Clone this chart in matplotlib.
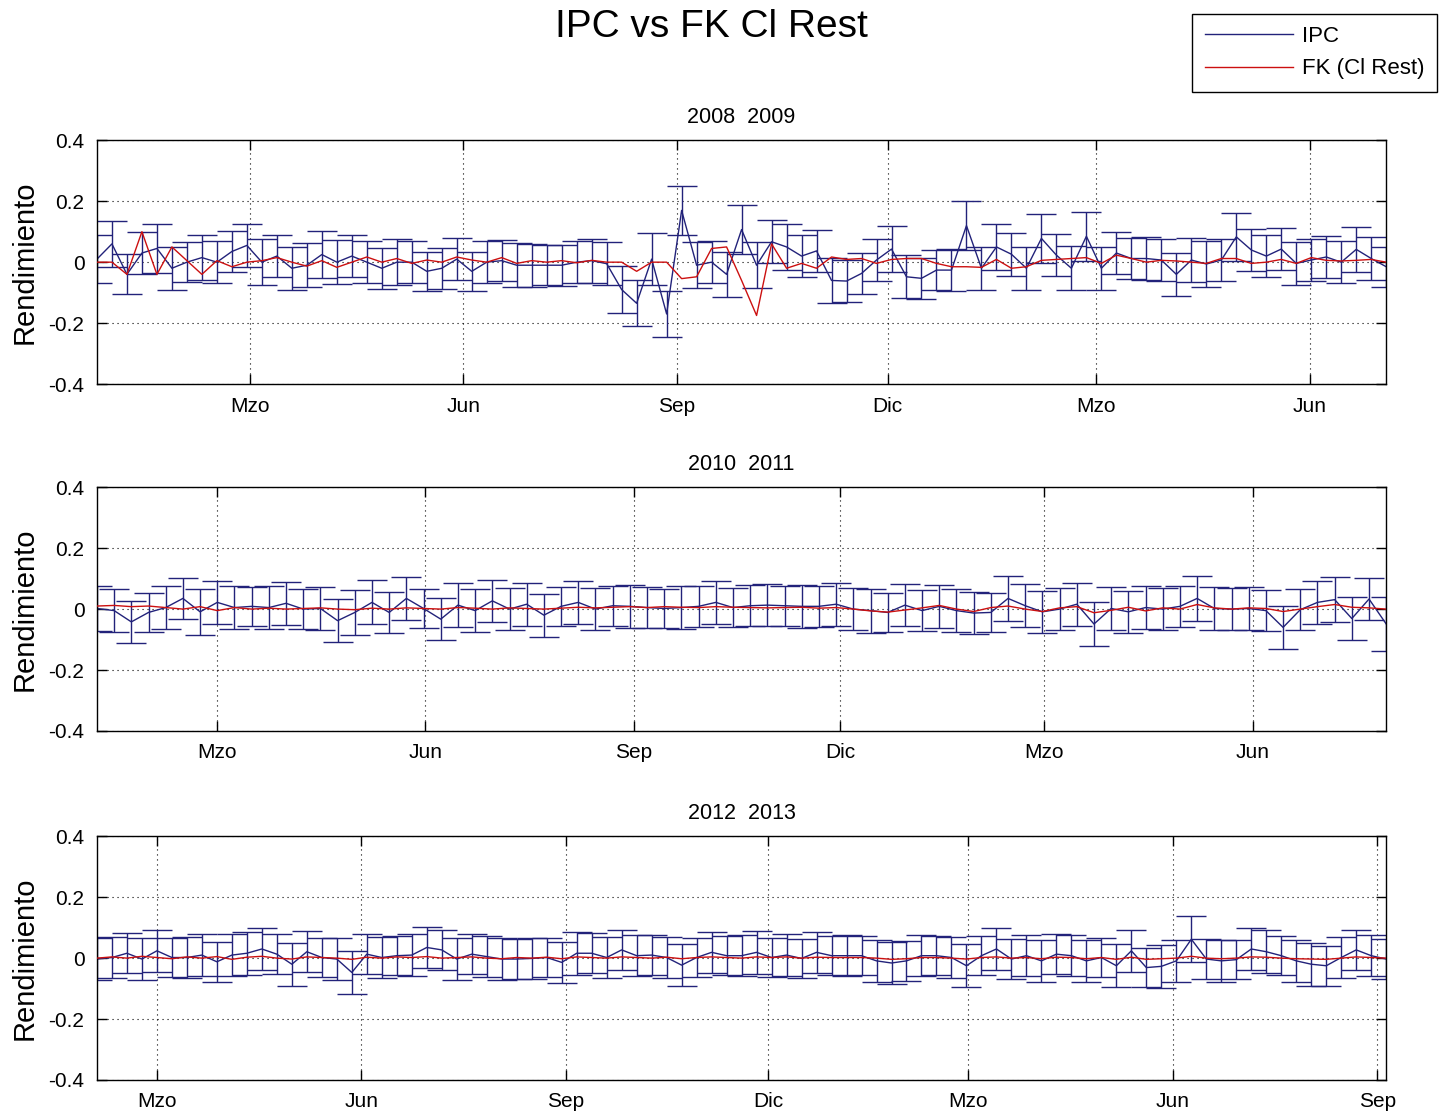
import matplotlib
matplotlib.use("Agg")
import matplotlib.pyplot as plt
import matplotlib.dates as mdates
from matplotlib.lines import Line2D
from matplotlib.ticker import FuncFormatter
import pandas as pd

plt.rcParams['font.family'] = ['Liberation Sans', 'DejaVu Sans']
plt.rcParams['axes.unicode_minus'] = False

# ---- 2008 2009 ----
ipc_0809 = [0.01, 0.06, -0.04, 0.03, 0.045, -0.02, 0.0, 0.015, 0.0, 0.035, 0.055, 0.0, 0.02, -0.02, -0.01,
            0.025, 0.0, 0.02, 0.0, -0.02, 0.0, 0.0, -0.03, -0.02, 0.01, -0.03, 0.0, 0.005, -0.01,
            -0.01, -0.01, -0.01, 0.0, 0.005, -0.005, -0.09, -0.135, 0.01, -0.17, 0.17, -0.01, 0.0, -0.04, 0.107,
            -0.01, 0.067, 0.05, 0.02, 0.037, -0.06, -0.062, -0.037, 0.007, 0.043, -0.048, -0.053, -0.026, -0.026,
            0.12, -0.02, 0.05, 0.026, -0.02, 0.078, 0.023, -0.02, 0.085, -0.02, 0.03, 0.012, 0.012, 0.007, -0.04,
            0.007, -0.006, 0.007, 0.083, 0.04, 0.02, 0.043, -0.004, 0.007, 0.017, 0.0, 0.042, 0.012, -0.015]
fk_0809 = [0.0, 0.0, -0.04, 0.1, -0.04, 0.05, 0.005, -0.04, 0.005, -0.015, 0.0, 0.005, 0.015, 0.0, -0.013,
           0.005, -0.017, 0.0, 0.017, 0.0, 0.012, -0.004, 0.007, 0.0, 0.017, 0.007, 0.0, 0.015, -0.004,
           0.005, 0.0, 0.005, -0.002, 0.006, 0.0, 0.0, -0.03, 0.0, 0.0, -0.054, -0.048, 0.045, 0.05, -0.06,
           -0.175, 0.06, -0.02, -0.004, -0.02, 0.017, 0.009, 0.012, -0.004, 0.009, 0.012, 0.012, -0.004, -0.015,
           -0.015, -0.017, 0.009, -0.02, -0.015, 0.006, 0.009, 0.012, 0.015, -0.004, 0.023, 0.012, 0.0, 0.006, 0.004,
           0.0, -0.004, 0.012, 0.012, -0.004, 0.0, 0.009, -0.004, 0.015, 0.006, 0.004, 0.006, 0.009, 0.0]
err_0809 = [0.08, 0.075, 0.066, 0.07, 0.08, 0.07, 0.065, 0.075, 0.07, 0.068, 0.07, 0.075, 0.07, 0.07, 0.072,
            0.078, 0.072, 0.068, 0.07, 0.068, 0.075, 0.07, 0.065, 0.068, 0.07, 0.065, 0.07, 0.068, 0.072,
            0.07, 0.065, 0.068, 0.07, 0.072, 0.07, 0.078, 0.075, 0.085, 0.075, 0.08, 0.075, 0.07, 0.075, 0.08,
            0.076, 0.07, 0.075, 0.07, 0.068, 0.075, 0.07, 0.068, 0.07, 0.075, 0.07, 0.068, 0.065, 0.07,
            0.08, 0.07, 0.075, 0.07, 0.07, 0.08, 0.07, 0.072, 0.08, 0.07, 0.07, 0.068, 0.07, 0.07, 0.07,
            0.072, 0.075, 0.07, 0.08, 0.07, 0.068, 0.07, 0.07, 0.068, 0.07, 0.068, 0.075, 0.07, 0.065]

# ---- 2010 2011 ----
ipc_1011 = [0.002, -0.005, -0.042, -0.011, 0.005, 0.035, -0.009, 0.022, 0.005, 0.009, 0.005, 0.019, 0.0,
            0.002, -0.038, -0.011, 0.022, -0.011, 0.035, 0.002, -0.033, 0.013, -0.005, 0.027, 0.0, 0.016,
            -0.02, 0.009, 0.022, 0.0, 0.011, 0.009, 0.005, 0.002, 0.005, 0.009, 0.022, 0.005,
            0.011, 0.013, 0.011, 0.009, 0.009, 0.016, 0.0, -0.005, -0.011, 0.013, -0.005, 0.009, -0.005,
            -0.013, -0.011, 0.035, 0.011, -0.009, 0.0, 0.016, -0.049, 0.002, -0.009, 0.005, 0.0, 0.009,
            0.035, 0.002, 0.0, 0.002, -0.005, -0.06, -0.002, 0.022, 0.031, -0.031, 0.033, -0.049]
fk_1011 = [0.01, 0.012, 0.008, 0.01, 0.005, 0.0, 0.008, -0.005, 0.005, 0.0, 0.003, 0.0, 0.002, 0.004, 0.0,
           -0.002, 0.003, 0.0, 0.004, 0.002, 0.0, 0.005, 0.003, 0.0, 0.004, 0.002, 0.0, 0.003, 0.006, 0.004,
           0.006, 0.008, 0.005, 0.008, 0.006, 0.005, 0.008, 0.006,
           0.005, 0.004, 0.005, 0.006, 0.003, 0.005, 0.0, -0.006, -0.01, -0.003, 0.004, 0.012, 0.0, -0.008,
           0.005, 0.01, 0.0, -0.008, 0.004, 0.008, -0.012, -0.004, 0.006, -0.006, 0.004, 0.0, 0.015, 0.004,
           0.0, 0.004, 0.002, -0.008, 0.0, 0.008, 0.015, 0.006, 0.004, 0.0]
err_1011 = [0.075, 0.07, 0.07, 0.065, 0.07, 0.068, 0.075, 0.07, 0.072, 0.065, 0.07, 0.07, 0.065, 0.07,
            0.07, 0.075, 0.072, 0.068, 0.07, 0.065, 0.07, 0.072, 0.07, 0.07, 0.068, 0.07, 0.07, 0.065,
            0.07, 0.068, 0.065, 0.07, 0.068, 0.065, 0.07, 0.068, 0.07, 0.065,
            0.068, 0.07, 0.065, 0.07, 0.068, 0.07, 0.07, 0.072, 0.065, 0.07, 0.068, 0.07, 0.07, 0.068,
            0.065, 0.075, 0.07, 0.068, 0.07, 0.07, 0.072, 0.07, 0.068, 0.07, 0.07, 0.068, 0.075, 0.07,
            0.068, 0.07, 0.068, 0.07, 0.068, 0.07, 0.075, 0.072, 0.07, 0.09]

# ---- 2012 2013 ----
ipc_1213 = [-0.003, 0.002, 0.016, -0.003, 0.024, 0.002, 0.002, 0.01, -0.012, 0.01, 0.016, 0.03, 0.013,
            -0.02, 0.021, 0.002, -0.003, -0.047, 0.013, 0.002, 0.008, 0.01, 0.035, 0.027, -0.003, 0.013,
            0.005, -0.003, -0.003, -0.001, 0.002, -0.014, 0.016, 0.016, 0.002, 0.027, 0.008, 0.01, 0.002,
            -0.023, 0.002, 0.019,
            0.008, 0.008, 0.019, 0.002, 0.01, -0.001, 0.019, 0.008, 0.008, 0.008, -0.009, -0.016, -0.009,
            0.008, 0.008, 0.002, -0.025, 0.008, 0.03, -0.003, 0.008, -0.009, 0.013, 0.008, -0.009, 0.002,
            -0.025, 0.024, -0.031, -0.027, -0.009, 0.062, -0.003, -0.009, -0.005, 0.03, 0.021, 0.008,
            -0.009, -0.02, -0.025, 0.002, 0.027, 0.008, -0.003]
fk_1213 = [0.0, 0.004, 0.0, 0.006, 0.002, -0.002, 0.004, 0.0, 0.005, -0.004, 0.003, 0.006, 0.0, -0.003,
           0.004, 0.002, 0.0, -0.004, 0.003, 0.0, 0.004, 0.002, 0.005, 0.0, 0.002, 0.004, 0.0, -0.002,
           0.002, 0.0, 0.003, -0.002, 0.004, 0.002, 0.0, 0.004, 0.002, 0.0, 0.003, -0.002, 0.002, 0.004,
           0.002, 0.0, 0.004, 0.002, 0.004, 0.0, 0.003, 0.002, 0.002, 0.002, 0.0, -0.004, -0.002, 0.002,
           0.002, 0.0, -0.003, 0.002, 0.004, 0.0, 0.002, -0.002, 0.003, 0.002, -0.002, 0.002, -0.004,
           0.003, -0.004, -0.002, 0.0, 0.006, 0.0, -0.002, 0.0, 0.004, 0.003, 0.0, -0.002, -0.003, -0.004,
           0.0, 0.004, 0.002, 0.0]
err_1213 = [0.07, 0.068, 0.065, 0.07, 0.068, 0.065, 0.068, 0.07, 0.065, 0.068, 0.07, 0.068, 0.065, 0.07,
            0.068, 0.065, 0.068, 0.07, 0.065, 0.068, 0.065, 0.07, 0.068, 0.065, 0.068, 0.065, 0.068, 0.07,
            0.065, 0.068, 0.065, 0.068, 0.07, 0.065, 0.068, 0.065, 0.068, 0.065, 0.068, 0.07, 0.065, 0.068,
            0.065, 0.068, 0.07, 0.065, 0.068, 0.065, 0.068, 0.065, 0.068, 0.065, 0.07, 0.068, 0.065, 0.068,
            0.065, 0.068, 0.07, 0.065, 0.068, 0.065, 0.068, 0.07, 0.065, 0.068, 0.07, 0.065, 0.07, 0.068,
            0.065, 0.07, 0.068, 0.075, 0.065, 0.068, 0.065, 0.068, 0.07, 0.065, 0.068, 0.07, 0.065, 0.068,
            0.065, 0.068, 0.065]

paneles = [
    ('2008  2009', '2007-12-26', '2009-07-04', ipc_0809, fk_0809, err_0809),
    ('2010  2011', '2010-01-07', '2011-07-30', ipc_1011, fk_1011, err_1011),
    ('2012  2013', '2012-02-03', '2013-09-05', ipc_1213, fk_1213, err_1213),
]
meses = {3: 'Mzo', 6: 'Jun', 9: 'Sep', 12: 'Dic'}

azul = '#22227a'
rojo = '#cc1010'

fig = plt.figure(figsize=(14.47, 11.18), dpi=100)
fondos = [0.6565, 0.3462, 0.034]

for k, (titulo, ini, fin, ipc, fk, err) in enumerate(paneles):
    ax = fig.add_axes([0.067, fondos[k], 0.891, 0.218])
    fechas = pd.date_range(ini, fin, periods=len(ipc)).to_pydatetime()
    ax.errorbar(fechas, ipc, yerr=err, color=azul, lw=1.0, elinewidth=1.0,
                capsize=11, capthick=1.0, zorder=2)
    ax.plot(fechas, fk, color=rojo, lw=1.0, zorder=3)

    ax.set_xlim(pd.Timestamp(ini), pd.Timestamp(fin))
    ax.set_ylim(-0.4, 0.4)
    ax.set_yticks([-0.4, -0.2, 0, 0.2, 0.4])
    ax.set_yticklabels(['-0.4', '-0.2', '0', '0.2', '0.4'])
    ax.xaxis.set_major_locator(mdates.MonthLocator(bymonth=[3, 6, 9, 12]))
    ax.xaxis.set_major_formatter(FuncFormatter(lambda v, p: meses[mdates.num2date(v).month]))
    ax.tick_params(direction='in', top=True, right=True, length=7, width=1,
                   labelsize=15, pad=9)
    ax.grid(True, linestyle=(0, (1, 3.5)), color='k', linewidth=0.8)
    for s in ax.spines.values():
        s.set_linewidth(1.0)
    ax.set_title(titulo, fontsize=15.5, pad=12.5)
    ax.set_ylabel('Rendimiento', fontsize=21)
    ax.yaxis.set_label_coords(-0.045, 0.5)

fig.text(0.492, 1 - 27 / 1118, 'IPC vs FK Cl Rest', ha='center', va='center', fontsize=28)

handles = [Line2D([], [], color=azul, lw=1), Line2D([], [], color=rojo, lw=1)]
leg = fig.legend(handles, ['IPC', 'FK (Cl Rest)'], loc='upper right',
                 bbox_to_anchor=(1437 / 1447, 1 - 14 / 1118), fontsize=16,
                 handlelength=4.0, fancybox=False, edgecolor='k', framealpha=1,
                 borderaxespad=0, borderpad=0.55, labelspacing=0.5, handletextpad=0.4)
leg.get_frame().set_linewidth(1.0)

fig.savefig('out.png', dpi=100)
